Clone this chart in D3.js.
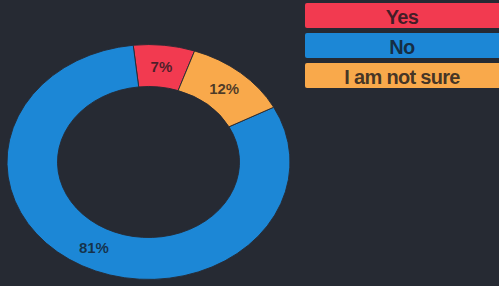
<!DOCTYPE html>
<html>
<head>
<meta charset="utf-8">
<script src="https://cdn.jsdelivr.net/npm/d3@7"></script>
<style>
  body { margin: 0; background: #262a33; }
  svg { display: block; }
</style>
</head>
<body>
<div id="chartDiv"></div>
<script>
var categories = ["Yes", "No", "I am not sure"];
var values = [7, 81, 12];
var colors = ["#f23a50", "#1c87d6", "#f9a94b"];

var width = 499, height = 286;
var cx = 148.5, cy = 162;
var outerR = 141.5, innerR = 91;
var squash = 0.83; // the reference donut is a bit flattened

var svg = d3.select("#chartDiv")
    .append("svg")
    .attr("width", width)
    .attr("height", height);

svg.append("rect")
    .attr("width", width)
    .attr("height", height)
    .attr("fill", "#262a33");

// counter-clockwise from ~19deg, same as the picture
var startA = 19 * Math.PI / 180;
var pie = d3.pie()
    .sort(null)
    .value(function(d) { return d; })
    .startAngle(startA)
    .endAngle(startA - 2 * Math.PI);

var arcs = pie(values);

var arc = d3.arc().innerRadius(innerR).outerRadius(outerR);
var labelArc = d3.arc().innerRadius((innerR + outerR) / 2).outerRadius((innerR + outerR) / 2);

var donut = svg.append("g")
    .attr("transform", "translate(" + cx + "," + cy + ") scale(1," + squash + ")");

donut.selectAll("path")
    .data(arcs)
    .enter()
    .append("path")
    .attr("d", arc)
    .attr("fill", function(d, i) { return colors[i]; })
    .attr("stroke", "#262a33")
    .attr("stroke-width", 1);

var total = d3.sum(values);

svg.append("g")
    .selectAll("text")
    .data(arcs)
    .enter()
    .append("text")
    .attr("x", function(d) { return cx + labelArc.centroid(d)[0]; })
    .attr("y", function(d) { return cy + labelArc.centroid(d)[1] * squash; })
    .attr("text-anchor", "middle")
    .attr("dominant-baseline", "central")
    .style("font-family", "'Liberation Sans', Arial, sans-serif")
    .style("font-weight", "bold")
    .style("font-size", "15px")
    .attr("fill", "#14161c")
    .attr("fill-opacity", 0.75)
    .text(function(d) { return Math.round(d.value / total * 100) + "%"; });

// legend
var legendY = d3.scaleBand()
    .domain(categories)
    .range([3, 88])
    .paddingInner(1 / 6);

var legend = svg.append("g");

legend.selectAll("rect")
    .data(categories)
    .enter()
    .append("rect")
    .attr("x", 305)
    .attr("y", function(d) { return legendY(d); })
    .attr("width", 200)
    .attr("height", legendY.bandwidth())
    .attr("rx", 2)
    .attr("fill", function(d, i) { return colors[i]; });

legend.selectAll("text")
    .data(categories)
    .enter()
    .append("text")
    .attr("x", 402)
    .attr("y", function(d) { return legendY(d) + legendY.bandwidth() / 2 + 1; })
    .attr("text-anchor", "middle")
    .attr("dominant-baseline", "central")
    .style("font-family", "'Liberation Sans', Arial, sans-serif")
    .style("font-weight", "bold")
    .style("font-size", "20px")
    .style("letter-spacing", "-0.7px")
    .attr("fill", "#14161c")
    .attr("fill-opacity", 0.8)
    .text(function(d) { return d; });
</script>
</body>
</html>
